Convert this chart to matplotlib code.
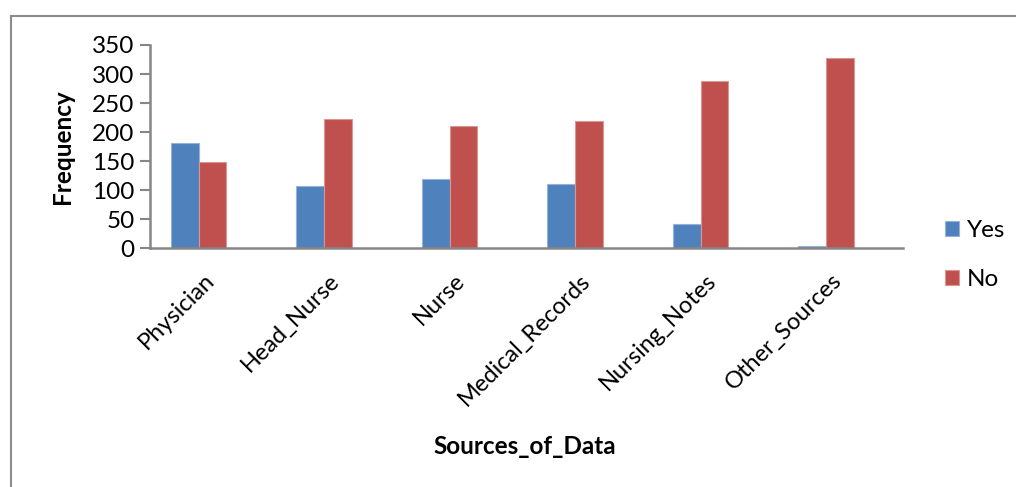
import matplotlib
matplotlib.use("Agg")
import numpy as np
import matplotlib.pyplot as plt
from matplotlib.transforms import ScaledTranslation
from matplotlib.lines import Line2D

# --- DATA ---
categories = ["Physician", "Head_Nurse", "Nurse", "Medical_Records",
              "Nursing_Notes", "Other_Sources"]
yes_vals = [182, 108, 120, 110, 42, 4]
no_vals = [148, 222, 210, 220, 288, 327]
y_ticks = [0, 50, 100, 150, 200, 250, 300, 350]

BLUE = "#4F81BD"
RED = "#C0504D"
AXIS_GRAY = "#868686"

plt.rcParams['font.family'] = ['Lato', 'DejaVu Sans']

fig = plt.figure(figsize=(10.16, 4.87), dpi=100)
ax = fig.add_axes([0.1476, 0.4901, 0.7412, 0.4175])

x = np.arange(len(categories))
w = 0.222
ax.bar(x - w / 2, yes_vals, w, color=BLUE, edgecolor="#95B3D7", linewidth=0.8, label="Yes")
ax.bar(x + w / 2, no_vals, w, color=RED, edgecolor="#D99694", linewidth=0.8, label="No")

ax.set_xlim(-0.388, 5.614)
ax.set_ylim(0, 350)
ax.set_yticks(y_ticks)
ax.set_yticklabels([str(t) for t in y_ticks], fontsize=17.5)
ax.tick_params(axis='y', length=7, width=1.5, color=AXIS_GRAY, pad=4)

ax.set_xticks(x)
ax.set_xticklabels(categories, fontsize=17, rotation=45, ha='right',
                   va='center', rotation_mode='anchor')
ax.tick_params(axis='x', length=0, pad=0)
for lbl in ax.get_xticklabels():
    lbl.set_transform(lbl.get_transform() + ScaledTranslation(0.12, -0.29, fig.dpi_scale_trans))

for side in ["top", "right"]:
    ax.spines[side].set_visible(False)
for side in ["left", "bottom"]:
    ax.spines[side].set_color(AXIS_GRAY)
    ax.spines[side].set_linewidth(1.8)

fig.text(62 / 1016, 1 - 147 / 487, "Frequency", rotation=90, fontsize=17.5,
         fontweight='bold', ha='center', va='center')
fig.text(525 / 1016, 1 - 447 / 487, "Sources_of_Data", fontsize=17.5,
         fontweight='bold', ha='center', va='center')

ax.legend(loc='center left', bbox_to_anchor=(933 / 1016, 1 - 255 / 487),
          bbox_transform=fig.transFigure, frameon=False, fontsize=17.5,
          handlelength=0.55, handleheight=0.6, handletextpad=0.35,
          labelspacing=1.15, borderpad=0)

# outer chart border (left and top edges visible)
fig.add_artist(Line2D([11 / 1016, 11 / 1016], [0, 1 - 16 / 487],
                      transform=fig.transFigure, color="#8C8C8C", linewidth=1.5))
fig.add_artist(Line2D([11 / 1016, 1], [1 - 16 / 487, 1 - 16 / 487],
                      transform=fig.transFigure, color="#8C8C8C", linewidth=1.5))

fig.savefig("out.png", dpi=100)
